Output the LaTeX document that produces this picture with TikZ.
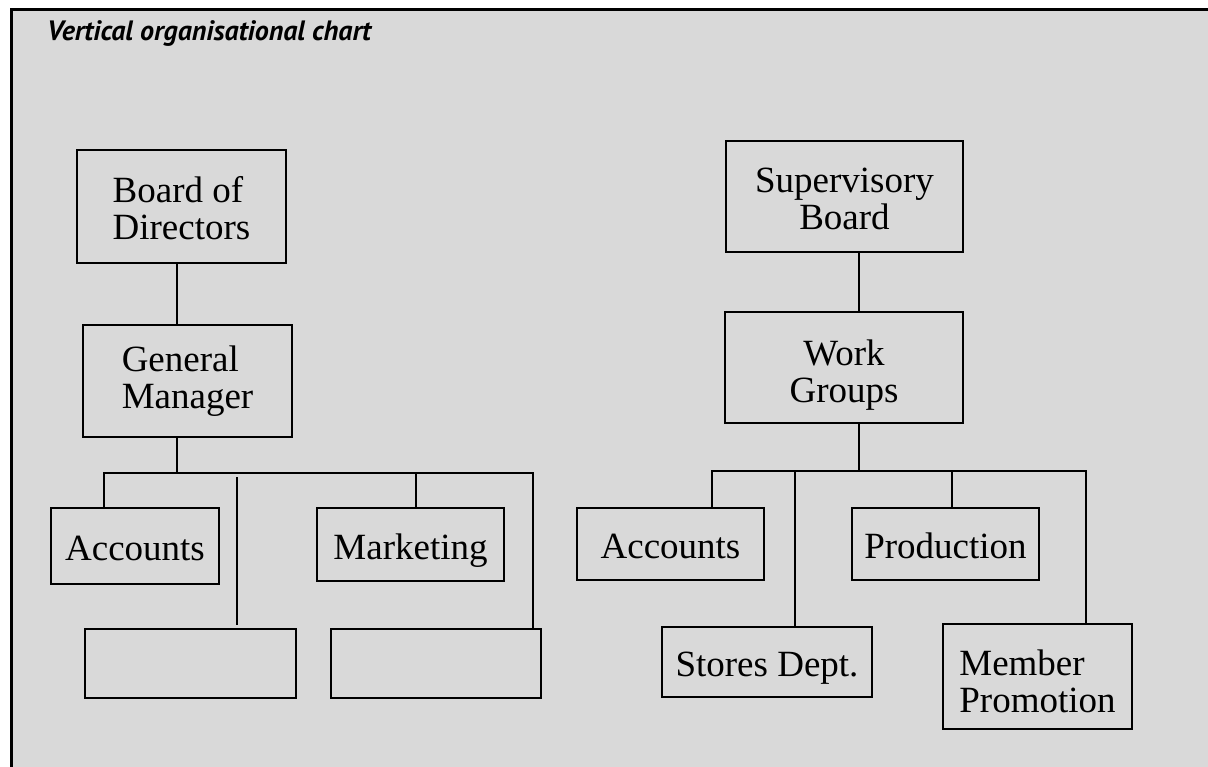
\documentclass[tikz,border=0pt]{standalone}
\usepackage{fontspec}
\setmainfont{Liberation Serif}
\newfontfamily\titlefont{PT Sans}
\definecolor{panel}{gray}{0.85}
\newcommand{\toppad}[1]{\rule{0pt}{#1}}

\begin{document}
\begin{tikzpicture}[
    x=1pt,
    y=-1pt,
    box/.style={
        draw,
        line width=2.8pt,
        inner sep=0pt,
        font=\fontsize{37}{37}\selectfont,
    },
    sized/.style 2 args={
        minimum width=#1,
        minimum height=#2,
    },
    single/.style={
        box,
        text height=29pt,
        text depth=0pt,
    },
    multi/.style={
        box,
        align=left,
    },
    link/.style={
        line width=2.8pt,
    },
]

    % page and frame
    \useasboundingbox (0,0) rectangle (1208,767);
    \fill[panel] (11,10) rectangle (1208,767);
    \draw[line width=3pt] (11,767) -- (11,10) -- (1208,10);

    \node[anchor=base west, inner sep=0pt,
        font=\titlefont\bfseries\itshape\fontsize{28}{28}\selectfont]
        (title) at (47,41) {Vertical organisational chart};

    % left chart
    \node[multi, sized={209pt}{113pt}] (board) at (181.5,206.5) {\toppad{30pt}Board of\\Directors};
    \node[multi, sized={209pt}{112pt}] (manager) at (187.5,381) {General\\Manager};
    \node[single, sized={168pt}{76pt}] (accountsL) at (135,546) {Accounts};
    \node[single, sized={187pt}{73pt}] (marketing) at (410.5,544.5) {Marketing};
    \node[box, sized={211pt}{69pt}] (blankA) at (190.5,663.5) {};
    \node[box, sized={210pt}{69pt}] (blankB) at (436,663.5) {};

    \coordinate (stemL) at (177,473);
    \coordinate (dropL1) at (104,473);
    \coordinate (dropL2) at (416,473);
    \coordinate (dropL3) at (533,473);
    \coordinate (looseTop) at (237,477);
    \coordinate (looseEnd) at (237,625);

    \draw[link] (board.south -| stemL) -- (manager.north -| stemL);
    \draw[link] (manager.south -| stemL) -- (stemL);
    \draw[link] (accountsL.north -| dropL1) -- (dropL1) -- (dropL3) -- (blankB.north -| dropL3);
    \draw[link] (dropL2) -- (marketing.north -| dropL2);
    \draw[link] (looseTop) -- (looseEnd);

    % right chart
    \node[box, align=center, sized={237pt}{111pt}] (supervisory) at (844.5,196.5) {\toppad{29pt}Supervisory\\Board};
    \node[box, align=center, sized={238pt}{111pt}] (groups) at (844,367.5) {\toppad{40pt}Work\\Groups};
    \node[single, sized={187pt}{72pt}] (accountsR) at (670.5,544) {Accounts};
    \node[single, sized={187pt}{72pt}] (production) at (945.5,544) {Production};
    \node[single, sized={210pt}{70pt}] (stores) at (767,662) {Stores Dept.};
    \node[multi, sized={189pt}{105pt}] (promotion) at (1037.5,676.5) {\toppad{36pt}Member\\Promotion};

    \coordinate (stemR) at (859,471);
    \coordinate (dropR1) at (712,471);
    \coordinate (dropR2) at (795,471);
    \coordinate (dropR3) at (952,471);
    \coordinate (dropR4) at (1086,471);

    \draw[link] (supervisory.south -| stemR) -- (groups.north -| stemR);
    \draw[link] (groups.south -| stemR) -- (stemR);
    \draw[link] (accountsR.north -| dropR1) -- (dropR1) -- (dropR4) -- (promotion.north -| dropR4);
    \draw[link] (dropR2) -- (stores.north -| dropR2);
    \draw[link] (dropR3) -- (production.north -| dropR3);

\end{tikzpicture}
\end{document}
